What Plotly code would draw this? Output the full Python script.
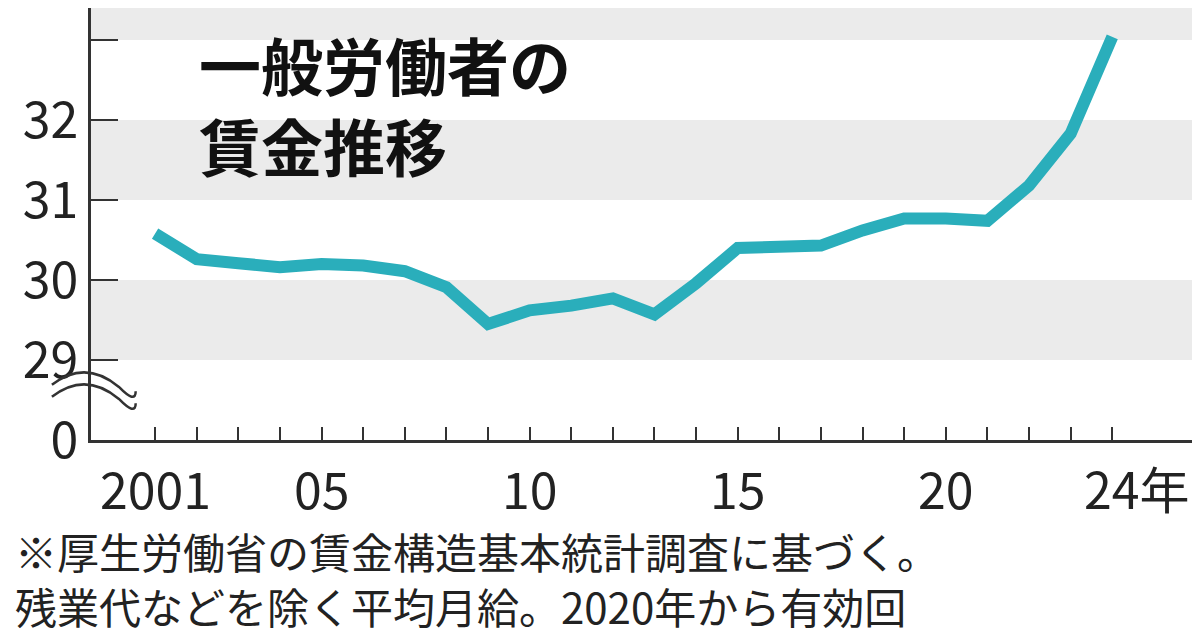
import plotly.graph_objects as go

# Average monthly wage of general workers (10k yen)
years = list(range(2001, 2025))
wage = [30.58, 30.26, 30.21, 30.16, 30.20, 30.18, 30.11, 29.91, 29.45, 29.62, 29.68,
        29.77, 29.57, 29.96, 30.40, 30.40, 30.43, 30.62, 30.77, 30.77, 30.74, 31.18,
        31.83, 33.04]
y_ticks = [28, 29, 30, 31, 32, 33]
y_labels = ["0", "29", "30", "31", "32", "33"]
x_labels = {2001: "2001", 2005: "05", 2010: "10", 2015: "15", 2020: "20"}

font = "Noto Sans CJK JP"
fig = go.Figure()

# gray bands
for lo, hi in [(29, 30), (31, 32), (33, 34)]:
    fig.add_shape(type="rect", xref="paper", x0=0, x1=1, yref="y", y0=lo, y1=hi,
                  fillcolor="#ebebeb", line_width=0, layer="below")

fig.add_trace(go.Scatter(x=years, y=wage, mode="lines",
                         line=dict(color="#2aaebb", width=12), hoverinfo="x+y"))

for yr, lab in x_labels.items():
    fig.add_annotation(x=yr, y=-0.02, xref="x", yref="paper", yanchor="top",
                       text=lab, showarrow=False, font=dict(size=50, color="#222", family=font))
fig.add_annotation(x=2024, y=-0.02, xref="x", yref="paper", yanchor="top", xanchor="left",
                   xshift=-30, text="24年", showarrow=False,
                   font=dict(size=50, color="#222", family=font))

# title
fig.add_annotation(x=0.095, y=0.98, xref="paper", yref="paper", xanchor="left", yanchor="top",
                   text="<b>一般労働者の<br>賃金推移</b>", showarrow=False, align="left",
                   font=dict(size=62, color="#111", family=font))

# footnote
fig.add_annotation(x=-0.07, y=-0.18, xref="paper", yref="paper", xanchor="left", yanchor="top",
                   text="※厚生労働省の賃金構造基本統計調査に基づく。<br>残業代などを除く平均月給。2020年から有効回",
                   showarrow=False, align="left",
                   font=dict(size=42, color="#222", family=font))

# axis break mark
for dy in (0, 12):
    fig.add_shape(type="path", xref="paper", yref="paper",
                  path=f"M -0.035 {0.10+dy/432:.4f} Q -0.005 {0.16+dy/432:.4f} 0.025 {0.095+dy/432:.4f} "
                       f"Q 0.04 {0.055+dy/432:.4f} 0.04 {0.085+dy/432:.4f}",
                  line=dict(color="#333", width=2.5))

fig.update_xaxes(range=[1999.46, 2026.3], tickvals=years, ticktext=[""] * len(years),
                 ticks="inside", ticklen=13, tickwidth=2, tickcolor="#333", automargin=False,
                 showline=True, linecolor="#333", linewidth=2.5, showgrid=False, zeroline=False)
fig.update_yaxes(range=[28, 33.4], tickvals=y_ticks, ticktext=y_labels,
                 ticks="inside", ticklen=27, tickwidth=2, tickcolor="#333", automargin=False,
                 showline=True, linecolor="#333", linewidth=2.5, showgrid=False, zeroline=False,
                 tickfont=dict(size=50, color="#222", family=font))

fig.update_layout(width=1200, height=630, showlegend=False,
                  margin=dict(l=83, r=0, t=0, b=198),
                  plot_bgcolor="white", paper_bgcolor="white")

fig.write_html("out.html")
